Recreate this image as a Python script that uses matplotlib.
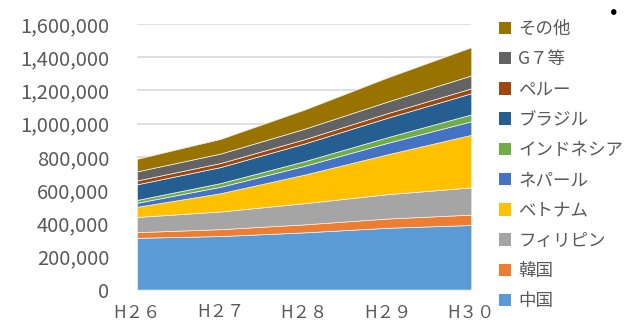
import matplotlib.pyplot as plt
import numpy as np
from matplotlib.patches import Patch
from matplotlib.ticker import FuncFormatter

plt.rcParams['font.family'] = ['Noto Sans CJK JP', 'DejaVu Sans']

years = ['H２６', 'H２７', 'H２８', 'H２９', 'H３０']

# 国籍別 外国人労働者数
china = [311831, 322545, 344658, 372263, 389117]
korea = [34100, 41461, 48121, 55926, 62516]
philippines = [91519, 106533, 127518, 146798, 164006]
vietnam = [61168, 110013, 172018, 240259, 316840]
nepal = [24282, 39056, 52770, 69111, 81562]
indonesia = [17000, 22000, 28000, 34000, 41586]
brazil = [94171, 96672, 106597, 117299, 127392]
peru = [23189, 24422, 25695, 27695, 29317]
g7 = [55000, 57000, 63000, 70000, 78000]
others = [75367, 88194, 115392, 145319, 170127]

labels = ['中国', '韓国', 'フィリピン', 'ベトナム', 'ネパール',
          'インドネシア', 'ブラジル', 'ペルー', 'G７等', 'その他']
colors = ['#5B9BD5', '#ED7D31', '#A5A5A5', '#FFC000', '#4472C4',
          '#70AD47', '#255E91', '#9E480E', '#636363', '#997300']
series = [china, korea, philippines, vietnam, nepal,
          indonesia, brazil, peru, g7, others]

fig = plt.figure(figsize=(6.25, 3.25), dpi=100)
ax = fig.add_axes([0.219, 0.109, 0.535, 0.817])

x = np.arange(len(years))
ax.stackplot(x, *series, colors=colors, edgecolor='#f2f2f2', linewidth=0.5)

ax.set_xlim(0, 4)
ax.set_ylim(0, 1600000)
ax.set_yticks(np.arange(0, 1600001, 200000))
ax.yaxis.set_major_formatter(FuncFormatter(lambda v, p: f'{int(v):,}'))
ax.set_xticks(x)
ax.set_xticklabels(years)
ax.grid(axis='y', color='#d9d9d9', linewidth=1.2)
ax.set_axisbelow(True)
for s in ax.spines.values():
    s.set_visible(False)
ax.tick_params(axis='y', length=0, pad=20, labelsize=14.5, labelcolor='#595959')
ax.tick_params(axis='x', length=0, pad=10, labelsize=12.5, labelcolor='#595959')

handles = [Patch(facecolor=c, edgecolor='none') for c in colors]
leg = fig.legend(handles[::-1], labels[::-1], loc='upper left',
                 bbox_to_anchor=(0.787, 0.96), frameon=False,
                 fontsize=12.6, labelcolor='#595959',
                 handlelength=0.72, handleheight=0.72, handletextpad=0.4,
                 labelspacing=0.70, borderaxespad=0)

fig.text(0.982, 0.963, '•', fontsize=16, ha='center', va='center', color='black')

fig.savefig('out.png', dpi=100)
